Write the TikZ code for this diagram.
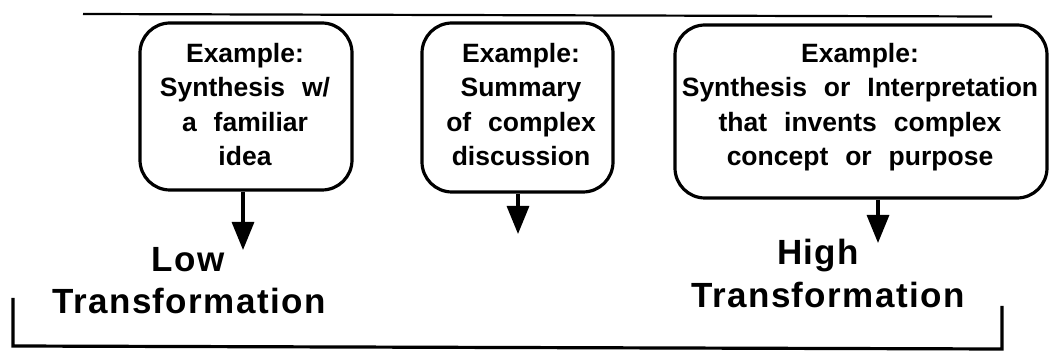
\documentclass[tikz,border=0pt]{standalone}
\usepackage{fontspec}
\setmainfont{Liberation Sans}
\newfontfamily\boxfont[WordSpace=2.3]{Liberation Sans}
\newfontfamily\lowfont[LetterSpace=4]{Liberation Sans}
\usetikzlibrary{arrows.meta}
\begin{document}
\begin{tikzpicture}[x=1pt,y=1pt,
  exbox/.style={draw, line width=3.2pt, rounded corners=30pt, inner sep=0pt},
  extext/.style={align=center, font=\boxfont\bfseries\fontsize{26.5}{34.5}\selectfont, inner sep=0pt},
  lvl/.style={anchor=base, font=\lowfont\bfseries\fontsize{35}{40}\selectfont, inner sep=0pt},
  flow/.style={line width=3.2pt, -{Triangle[width=22pt,length=28pt]}}
]
\useasboundingbox (0,0) rectangle (1050,-355);
% top rule
\draw[line width=2.2pt] (83,-14) -- (992,-16.5);
% boxes
\node[exbox, minimum width=212pt, minimum height=167pt] (b1) at (246,-106.5) {};
\node[exbox, minimum width=191pt, minimum height=169pt] (b2) at (517.5,-107.5) {};
\node[exbox, minimum width=372pt, minimum height=173pt] (b3) at (861,-111.5) {};
% texts
\node[extext, anchor=north] (t1) at (245,-43) {Example:\\Synthesis w/\\a familiar\\idea};
\node[extext, anchor=north] (t2) at (521,-43) {Example:\\Summary\\of complex\\discussion};
\node[extext, anchor=north] (t3) at (860,-43) {Example:\\Synthesis or Interpretation\\that invents complex\\concept or purpose};
% arrow ends
\coordinate (e1) at (243,-250);
\coordinate (e2) at (518,-234);
\coordinate (e3) at (878,-243);
\draw[flow] (b1.south -| e1) -- (e1);
\draw[flow] (b2.south -| e2) -- (e2);
\draw[flow] (b3.south -| e3) -- (e3);
% level labels
\node[lvl] (low) at (188,-272) {Low};
\node[lvl] (lowt) at (189,-314) {Transformation};
\node[lvl] (high) at (818,-265) {High};
\node[lvl] (hight) at (828,-308) {Transformation};
% bracket
\draw[line width=3.2pt] (13,-298) -- (13,-346) -- (1002,-349) -- (1002,-306);
\end{tikzpicture}
\end{document}
